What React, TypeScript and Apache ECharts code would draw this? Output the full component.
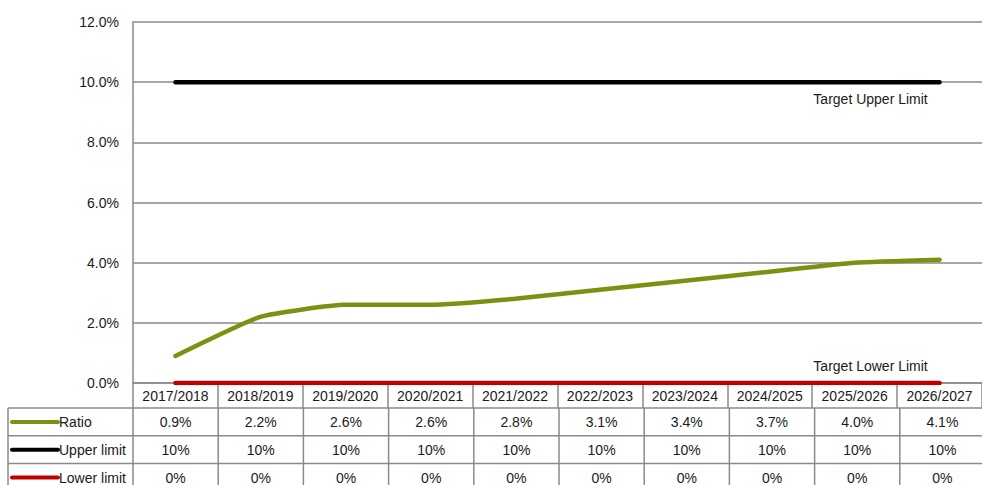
import React, { useEffect, useRef } from "react";
import * as echarts from "echarts";

const categories = [
  "2017/2018", "2018/2019", "2019/2020", "2020/2021", "2021/2022",
  "2022/2023", "2023/2024", "2024/2025", "2025/2026", "2026/2027",
];
const ratio = [0.9, 2.2, 2.6, 2.6, 2.8, 3.1, 3.4, 3.7, 4.0, 4.1];
const upperLimit = [10, 10, 10, 10, 10, 10, 10, 10, 10, 10];
const lowerLimit = [0, 0, 0, 0, 0, 0, 0, 0, 0, 0];
const yTicks = { min: 0, max: 12, interval: 2 };

const seriesDefs = [
  { name: "Ratio", data: ratio, color: "#7e8f12", fmt: (v: number) => v.toFixed(1) + "%" },
  { name: "Upper limit", data: upperLimit, color: "#000000", fmt: (v: number) => v + "%" },
  { name: "Lower limit", data: lowerLimit, color: "#c00000", fmt: (v: number) => v + "%" },
];

const FONT = "Liberation Sans, Arial, sans-serif";
const FS = 14;
const TXT = "#1a1a1a";
const GRID_LEFT = 133;
const GRID_TOP = 22;
const GRID_W = 852;
const GRID_H = 361;
const GRAY = "#8a8a8a";
const ROW_TOP = 408;
const ROW_H = 27.8;

export default function App() {
  const ref = useRef<HTMLDivElement>(null);
  useEffect(() => {
    if (!ref.current) return;
    const chart = echarts.init(ref.current, undefined, { renderer: "svg" });
    const n = categories.length;
    const colW = GRID_W / n;
    const graphics: any[] = [];
    const tableBottom = ROW_TOP + ROW_H * seriesDefs.length;
    for (let r = 0; r <= seriesDefs.length; r++) {
      const y = ROW_TOP + r * ROW_H;
      graphics.push({
        type: "line",
        shape: { x1: 8, y1: y, x2: GRID_LEFT + GRID_W, y2: y },
        style: { stroke: GRAY, lineWidth: 1.5 },
        silent: true,
      });
    }
    graphics.push({
      type: "line",
      shape: { x1: 8, y1: ROW_TOP, x2: 8, y2: tableBottom },
      style: { stroke: GRAY, lineWidth: 1.5 },
    });
    for (let c = 0; c <= n; c++) {
      const x = GRID_LEFT + c * colW;
      graphics.push({
        type: "line",
        shape: { x1: x, y1: ROW_TOP, x2: x, y2: tableBottom },
        style: { stroke: GRAY, lineWidth: 1.5 },
      });
    }
    seriesDefs.forEach((s, r) => {
      const cy = ROW_TOP + r * ROW_H + ROW_H / 2;
      graphics.push({
        type: "line",
        shape: { x1: 12, y1: cy, x2: 58, y2: cy },
        style: { stroke: s.color, lineWidth: 4, lineCap: "round" },
      });
      graphics.push({
        type: "text",
        x: 59,
        y: cy,
        style: {
          text: s.name,
          font: `${FS}px ${FONT}`,
          fill: TXT,
          textVerticalAlign: "middle",
          textAlign: "left",
        },
      });
      s.data.forEach((v, c) => {
        graphics.push({
          type: "text",
          x: GRID_LEFT + (c + 0.5) * colW,
          y: cy,
          style: {
            text: s.fmt(v),
            font: `${FS}px ${FONT}`,
            fill: TXT,
            textAlign: "center",
            textVerticalAlign: "middle",
          },
        });
      });
    });

    const lastLabel = (data: number[], color: string, text: string, pos: string) =>
      data.map((v, i) =>
        i === data.length - 1
          ? {
              value: v,
              symbol: "circle",
              symbolSize: 2,
              itemStyle: { color },
              label: {
                show: true,
                formatter: text,
                position: pos,
                distance: 9,
                offset: [-69, 0],
                fontFamily: FONT,
                fontSize: FS,
                color: TXT,
              },
            }
          : { value: v, symbol: "none" }
      );

    chart.setOption({
      animation: false,
      grid: { left: GRID_LEFT, top: GRID_TOP, width: GRID_W, height: GRID_H, containLabel: false },
      xAxis: {
        type: "category",
        data: categories,
        boundaryGap: true,
        axisLine: { show: true, lineStyle: { color: GRAY, width: 1.5 } },
        axisTick: { show: true, length: 25, interval: 0, lineStyle: { color: GRAY, width: 1.5 } },
        axisLabel: { margin: 6, fontFamily: FONT, fontSize: FS, color: TXT, interval: 0 },
        splitLine: { show: false },
      },
      yAxis: {
        type: "value",
        min: yTicks.min,
        max: yTicks.max,
        interval: yTicks.interval,
        axisLine: { show: true, lineStyle: { color: GRAY, width: 1.5 } },
        axisTick: { show: false },
        axisLabel: {
          margin: 14,
          fontFamily: FONT,
          fontSize: FS,
          color: TXT,
          formatter: (v: number) => v.toFixed(1) + "%",
        },
        splitLine: { show: true, lineStyle: { color: GRAY, width: 1.5 } },
      },
      series: [
        {
          name: "Ratio",
          type: "line",
          data: ratio,
          smooth: 0.15,
          showSymbol: false,
          symbol: "none",
          lineStyle: { color: "#7e8f12", width: 4.5, cap: "round" },
          z: 3,
        },
        {
          name: "Upper limit",
          type: "line",
          data: lastLabel(upperLimit, "#000000", "Target Upper Limit", "bottom"),
          showSymbol: true,
          showAllSymbol: true,
          lineStyle: { color: "#000000", width: 4.5, cap: "round" },
          z: 3,
        },
        {
          name: "Lower limit",
          type: "line",
          data: lastLabel(lowerLimit, "#c00000", "Target Lower Limit", "top"),
          showSymbol: true,
          showAllSymbol: true,
          lineStyle: { color: "#c00000", width: 4.5, cap: "round" },
          z: 3,
        },
      ],
      graphic: graphics,
    });
    return () => chart.dispose();
  }, []);
  return (
    <div
      ref={ref}
      style={{ position: "fixed", left: 0, top: 0, width: 982, height: 485, background: "#fff" }}
    />
  );
}
